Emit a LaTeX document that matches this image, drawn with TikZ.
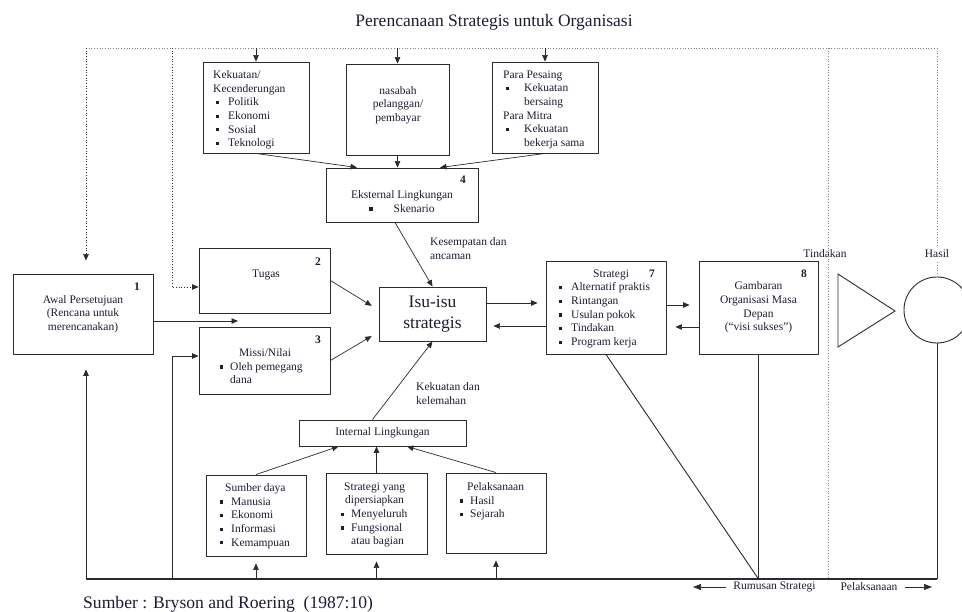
\documentclass[tikz,border=0pt]{standalone}
\usepackage{fontspec}
\setmainfont{Liberation Serif}
\usetikzlibrary{arrows.meta,positioning,calc}
\definecolor{garis}{HTML}{2B2B2B}
\definecolor{tinta}{HTML}{1C1C33}
\newcommand{\teks}{\fontsize{11.5}{13.6}\selectfont}
\newcommand{\sqbul}{\raisebox{1.6pt}{\rule{3.2pt}{3.2pt}}}
\newcommand{\itm}[1][12pt]{\hspace*{3pt}\makebox[#1][l]{\sqbul}}
\tikzset{
  kotak/.style={draw=garis, line width=0.9pt, inner sep=0pt, text=tinta, font=\teks, align=center},
  tulisan/.style={text=tinta, font=\teks, inner sep=0pt, align=left, anchor=north west},
  tengah/.style={text=tinta, font=\teks, inner sep=0pt, align=center},
  nomor/.style={text=tinta, font=\teks\bfseries, inner sep=0pt},
  panah/.style={draw=garis, line width=0.7pt, -{Triangle[length=6.5pt,width=5.5pt]}},
  titik/.style={draw=garis!60, line width=0.7pt, dotted},
}

\begin{document}
\begin{tikzpicture}[x=1pt, y=-1pt]
  \useasboundingbox (0,0) rectangle (962,612);

  % judul
  \node[text=tinta, font=\fontsize{17.5}{20}\selectfont] (judul) at (494,22) {Perencanaan Strategis untuk Organisasi};

  % kotak-kotak
  \node[kotak, minimum width=106pt, minimum height=91pt] (kekuatan) at (256,107.5) {};
  \node[kotak, minimum width=103pt, minimum height=91pt] (nasabah) at (397.5,109.5) {};
  \node[kotak, minimum width=106pt, minimum height=91pt] (pesaing) at (545,107.5) {};
  \node[kotak, minimum width=152pt, minimum height=54pt] (eksternal) at (402,195) {};
  \node[kotak, minimum width=140pt, minimum height=80pt] (awal) at (83,314) {Awal Persetujuan\\(Rencana untuk\\merencanakan)};
  \node[kotak, minimum width=131pt, minimum height=65pt] (tugas) at (264.5,280.5) {};
  \node[kotak, minimum width=131pt, minimum height=67pt] (missi) at (264.5,360.5) {};
  \node[kotak, minimum width=107pt, minimum height=54pt, font=\fontsize{17.5}{21.5}\selectfont] (isu) at (432.5,314) {Isu-isu\\strategis};
  \node[kotak, minimum width=120pt, minimum height=93pt] (strategi) at (606,307.5) {};
  \node[kotak, minimum width=119pt, minimum height=93pt] (gambaran) at (758.5,307.5) {Gambaran\\Organisasi Masa\\Depan\\(``visi sukses'')};
  \node[kotak, minimum width=167pt, minimum height=26pt] (internal) at (382.5,433) {Internal Lingkungan};
  \node[kotak, minimum width=100pt, minimum height=81pt] (sumber) at (256,515.5) {};
  \node[kotak, minimum width=101pt, minimum height=81pt] (disiapkan) at (376.5,513.5) {};
  \node[kotak, minimum width=100pt, minimum height=80pt] (pelaksanaan) at (496,513) {};
  \node[draw=garis, line width=0.9pt, circle, minimum size=66pt, inner sep=0pt] (lingkaran) at (937,310) {};
  \draw[garis, line width=0.9pt] (838,274) -- (895,311) -- (838,347) -- cycle;

  % isi kotak
  \node[tulisan] (tkekuatan) at (213,70.5) {Kekuatan/\\Kecenderungan\\\itm Politik\\\itm Ekonomi\\\itm Sosial\\\itm Teknologi};
  \node[tengah] (tnasabah) at (398,105) {nasabah\\pelanggan/\\pembayar};
  \node[tulisan] (tpesaing) at (503,70.5) {Para Pesaing\\\itm[18pt]Kekuatan\\\hspace*{21pt}bersaing\\Para Mitra\\\itm[18pt]Kekuatan\\\hspace*{21pt}bekerja sama};
  \node[tengah] (teksternal) at (402,201.5) {Eksternal Lingkungan\\\sqbul\hspace{21pt}Skenario};
  \node[tengah] (ttugas) at (266,275) {Tugas};
  \node[tulisan] (tmissi) at (217,348.5) {\hspace*{22pt}Missi/Nilai\\\itm[10pt]Oleh pemegang\\\hspace*{13pt}dana};
  \node[tulisan] (tstrategi) at (556,269.5) {\hspace*{37pt}Strategi\\\itm Alternatif praktis\\\itm Rintangan\\\itm Usulan pokok\\\itm Tindakan\\\itm Program kerja};
  \node[tulisan] (tsumber) at (217,483.5) {\hspace*{8pt}Sumber daya\\\itm[11pt]Manusia\\\itm[11pt]Ekonomi\\\itm[11pt]Informasi\\\itm[11pt]Kemampuan};
  \node[tulisan] (tdisiapkan) at (338,482.5) {\hspace*{6pt}Strategi yang\\\hspace*{7pt}dipersiapkan\\\itm[10pt]Menyeluruh\\\itm[10pt]Fungsional\\\hspace*{13pt}atau bagian};
  \node[tulisan] (tpelaksanaan) at (457,482.5) {\hspace*{10pt}Pelaksanaan\\\itm[10pt]Hasil\\\itm[10pt]Sejarah};

  % nomor
  \node[nomor] (n1) at (137,287) {1};
  \node[nomor] (n2) at (318,262) {2};
  \node[nomor] (n3) at (318,340) {3};
  \node[nomor] (n4) at (463,180) {4};
  \node[nomor] (n7) at (652,274) {7};
  \node[nomor] (n8) at (804,274) {8};

  % keterangan
  \node[tulisan] (tkesempatan) at (430,237.5) {Kesempatan dan\\ancaman};
  \node[tulisan] (tkelemahan) at (416,382.5) {Kekuatan dan\\kelemahan};
  \node[tengah] (tindakan) at (825,254) {Tindakan};
  \node[tengah, inner sep=4pt] (hasillbl) at (937,254) {Hasil};
  \node[tengah] (rumusan) at (774.5,587) {Rumusan Strategi};
  \node[tengah] (laksana) at (869,587) {Pelaksanaan};
  \node[text=tinta, font=\fontsize{17.6}{20}\selectfont, anchor=west, inner sep=0pt] (sumberteks) at (83,604) {Sumber : Bryson and Roering\ \ (1987:10)};

  % titik bantu
  \coordinate (atas) at (0,48);
  \coordinate (bawah) at (0,579);
  \coordinate (kiri) at (86,48);
  \coordinate (lipat) at (172,48);
  \coordinate (batas) at (828,48);
  \coordinate (kanan) at (937,48);
  \coordinate (celah) at (238,321);
  \coordinate (rumusanujung) at (693,587);
  \coordinate (laksanaujung) at (932,587);
  \path ([yshift=11pt]isu.east) coordinate (isuA)
        ([yshift=-12pt]isu.east) coordinate (isuB)
        ([yshift=2.5pt]strategi.east) coordinate (strA)
        ([yshift=-19.5pt]strategi.east) coordinate (strB)
        ([yshift=-6.5pt]tugas.west) coordinate (tugasA)
        ([yshift=4.5pt]missi.west) coordinate (missiA);

  % garis titik-titik
  \draw[titik] (kiri) -- (kanan);
  \draw[titik, panah, shorten >=13pt] (kiri) -- (kiri |- awal.north);
  \draw[titik, panah] (lipat) |- (tugasA);
  \draw[titik] (batas) -- (batas |- bawah);
  \draw[titik] (kanan) -- (hasillbl.north);
  \draw[titik] (hasillbl.south) -- (lingkaran.north);

  % panah atas
  \foreach \k in {kekuatan, nasabah, pesaing}
    \draw[panah] (\k.north |- atas) -- (\k.north);
  \draw[panah] (kekuatan.south) -- ([xshift=-45pt]eksternal.north);
  \draw[panah] (nasabah.south) -- (nasabah.south |- eksternal.north);
  \draw[panah] (pesaing.south) -- ([xshift=38pt]eksternal.north);
  \draw[panah] ([xshift=-7pt]eksternal.south) -- (isu.north);

  % panah tengah
  \draw[panah] (awal.east |- celah) -- (celah);
  \draw[panah, shorten >=8pt] (tugas.east) -- ([yshift=4pt]isu.west);
  \draw[panah, shorten >=8pt] (missi.east) -- ([yshift=-18pt]isu.west);
  \draw[panah, shorten >=8pt] (isuA) -- (isuA -| strategi.west);
  \draw[panah, shorten >=7pt] (isuB -| strategi.west) -- (isuB);
  \draw[panah, shorten >=9pt] (strA) -- (strA -| gambaran.west);
  \draw[panah, shorten >=9pt] (strB -| gambaran.west) -- (strB);

  % panah bawah
  \draw[panah] ([xshift=-10pt]internal.north) -- (isu.south);
  \draw[panah] (sumber.north) -- ([xshift=-44pt]internal.south);
  \draw[panah] (disiapkan.north) -- (disiapkan.north |- internal.south);
  \draw[panah] (pelaksanaan.north) -- ([xshift=24.5pt]internal.south);

  % garis dasar
  \draw[garis, line width=1.2pt] (kiri |- bawah) -- (kanan |- bawah);
  \draw[panah, shorten >=15pt] (kiri |- bawah) -- (kiri |- awal.south);
  \draw[panah] (lipat |- bawah) |- (missiA);
  \foreach \k in {sumber, disiapkan, pelaksanaan}
    \draw[panah, shorten >=7pt] (\k.south |- bawah) -- (\k.south);
  \draw[garis, line width=0.9pt] (gambaran.south) -- (gambaran.south |- bawah);
  \draw[garis, line width=0.9pt] (strategi.south) -- (gambaran.south |- bawah);
  \draw[garis, line width=0.9pt] (lingkaran.south) -- (lingkaran.south |- bawah);
  \draw[panah, -{Triangle[length=8pt,width=6pt]}, shorten <=7pt] (rumusan.west) -- (rumusanujung);
  \draw[panah, -{Triangle[length=8pt,width=6pt]}, shorten <=7pt] (laksana.east) -- (laksanaujung);
\end{tikzpicture}
\end{document}
